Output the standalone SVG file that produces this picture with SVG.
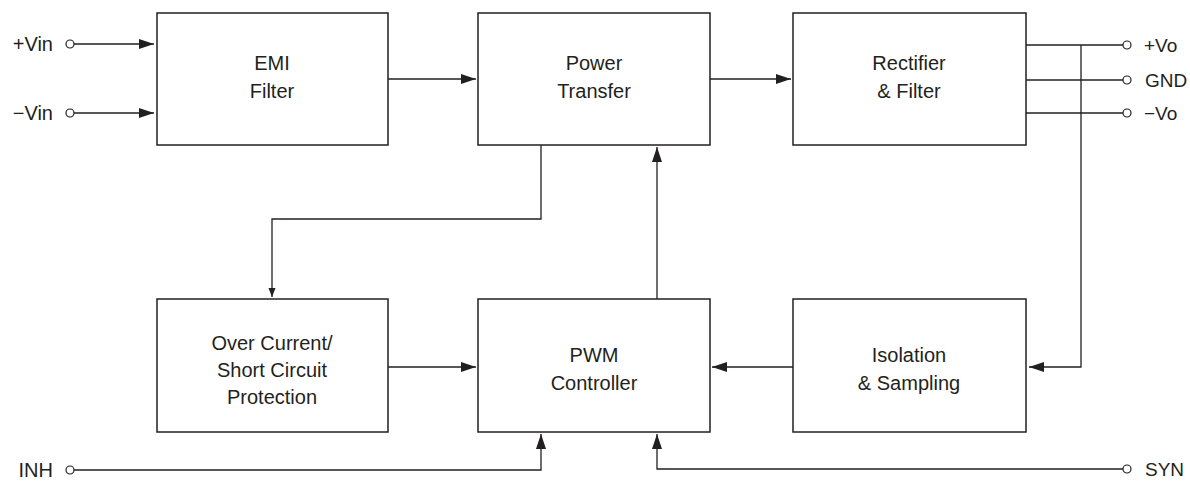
<svg xmlns="http://www.w3.org/2000/svg" width="1190" height="481" viewBox="0 0 1190 481">
<style>
.box{fill:#fff;stroke:#231f20;stroke-width:1.5}
.ln{fill:none;stroke:#231f20;stroke-width:1.3}
.t{font-family:"Liberation Sans",Arial,sans-serif;font-size:20px;fill:#231f20;text-anchor:middle}
.lbl{font-family:"Liberation Sans",Arial,sans-serif;font-size:20px;fill:#231f20}
.rl{font-size:19px}
.le{text-anchor:end}
.term{fill:#fff;stroke:#231f20;stroke-width:1.2}
</style>
<defs>
<marker id="a" markerUnits="userSpaceOnUse" markerWidth="16" markerHeight="10" refX="15" refY="5" orient="auto">
<path d="M0,0 L15,5 L0,10 Z" fill="#231f20"/>
</marker>
<marker id="s" markerUnits="userSpaceOnUse" markerWidth="10" markerHeight="8" refX="9" refY="4" orient="auto">
<path d="M0,0.5 L9,4 L0,7.5 Z" fill="#231f20"/>
</marker>
</defs>
<g id="connectors">
<path class="ln" d="M74,44 H154" marker-end="url(#a)"/>
<path class="ln" d="M74,113 H154" marker-end="url(#a)"/>
<path class="ln" d="M388,79 H476" marker-end="url(#a)"/>
<path class="ln" d="M710,79 H791" marker-end="url(#a)"/>
<path class="ln" d="M1026,45 H1123"/>
<path class="ln" d="M1026,80 H1123"/>
<path class="ln" d="M1026,113 H1123"/>
<path class="ln" d="M1081,45 V367 H1029" marker-end="url(#a)"/>
<path class="ln" d="M541,145 V219 H272 V297" marker-end="url(#s)"/>
<path class="ln" d="M388,367 H476" marker-end="url(#a)"/>
<path class="ln" d="M793,367 H712" marker-end="url(#a)"/>
<path class="ln" d="M657,299 V147" marker-end="url(#a)"/>
<path class="ln" d="M74,470 H541 V434" marker-end="url(#a)"/>
<path class="ln" d="M1123,469 H657 V434" marker-end="url(#a)"/>
</g>
<g id="terminals">
<circle class="term" cx="70" cy="44" r="4"/>
<circle class="term" cx="70" cy="113" r="4"/>
<circle class="term" cx="1127" cy="45" r="4"/>
<circle class="term" cx="1127" cy="80" r="4"/>
<circle class="term" cx="1127" cy="113" r="4"/>
<circle class="term" cx="70" cy="470" r="4"/>
<circle class="term" cx="1127" cy="469" r="4"/>
<text class="lbl le" x="53" y="51">+Vin</text>
<text class="lbl le" x="53" y="120">−Vin</text>
<text class="lbl le" x="53" y="477">INH</text>
<text class="lbl rl" x="1144" y="52">+Vo</text>
<text class="lbl rl" x="1145" y="87">GND</text>
<text class="lbl rl" x="1144" y="120">−Vo</text>
<text class="lbl rl" x="1145" y="476">SYN</text>
</g>
<g id="emi">
<rect class="box" x="157" y="13" width="231" height="132"/>
<text class="t" x="272" y="70">EMI</text>
<text class="t" x="272" y="98">Filter</text>
</g>
<g id="power">
<rect class="box" x="478" y="13" width="232" height="132"/>
<text class="t" x="594" y="70">Power</text>
<text class="t" x="594" y="98">Transfer</text>
</g>
<g id="rectifier">
<rect class="box" x="793" y="13" width="233" height="132"/>
<text class="t" x="909" y="70">Rectifier</text>
<text class="t" x="909" y="98">&amp; Filter</text>
</g>
<g id="overcurrent">
<rect class="box" x="157" y="299" width="231" height="133"/>
<text class="t" x="272" y="350">Over Current/</text>
<text class="t" x="272" y="377">Short Circuit</text>
<text class="t" x="272" y="404">Protection</text>
</g>
<g id="pwm">
<rect class="box" x="478" y="299" width="232" height="133"/>
<text class="t" x="594" y="362">PWM</text>
<text class="t" x="594" y="390">Controller</text>
</g>
<g id="isolation">
<rect class="box" x="793" y="299" width="233" height="133"/>
<text class="t" x="909" y="362">Isolation</text>
<text class="t" x="909" y="390">&amp; Sampling</text>
</g>
</svg>
